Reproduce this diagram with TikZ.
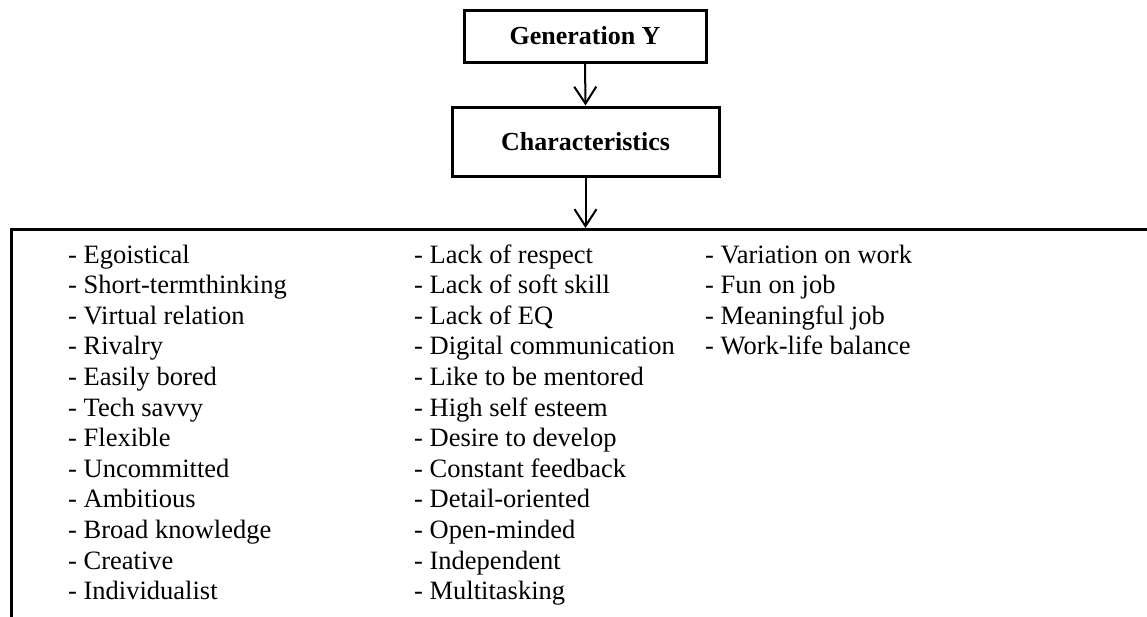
\documentclass[tikz,border=0pt]{standalone}
\usepackage{fontspec}
\setmainfont{Liberation Serif}
\usetikzlibrary{arrows.meta}
\begin{document}
\begin{tikzpicture}[x=1pt,y=-1pt,
  headbox/.style={draw, line width=3pt, inner sep=0pt, font=\fontsize{26}{30}\selectfont\bfseries},
  item/.style={inner sep=0pt, anchor=base west, font=\fontsize{26.5}{30}\selectfont},
  conn/.style={line width=2pt, -{Straight Barb[length=17pt,width=22pt]}}]
\useasboundingbox (0,0) rectangle (1147,616);
\clip (0,0) rectangle (1147,616);
\node[headbox, minimum width=242pt, minimum height=52pt] (gen) at (585,36) {Generation Y};
\node[headbox, minimum width=267pt, minimum height=69pt] (char) at (585.5,141.5) {Characteristics};
\node[draw, line width=3pt, inner sep=0pt, anchor=north west, minimum width=1300pt, minimum height=500pt] (list) at (10,228) {};
\draw[conn] (gen.south) -- (char.north);
\draw[conn] (char.south) -- (char.south |- list.north);
\foreach \t [count=\i] in {Egoistical, Short-termthinking, Virtual relation, Rivalry, Easily bored, Tech savvy, Flexible, Uncommitted, Ambitious, Broad knowledge, Creative, Individualist}
  \node[item] (a\i) at (68, 263+\i*30.6-30.6) {- \t};
\foreach \t [count=\i] in {Lack of respect, Lack of soft skill, Lack of EQ, Digital communication, Like to be mentored, High self esteem, Desire to develop, Constant feedback, Detail-oriented, Open-minded, Independent, Multitasking}
  \node[item] (b\i) at (414, 263+\i*30.6-30.6) {- \t};
\foreach \t [count=\i] in {Variation on work, Fun on job, Meaningful job, Work-life balance}
  \node[item] (c\i) at (705, 263+\i*30.6-30.6) {- \t};
\end{tikzpicture}
\end{document}
